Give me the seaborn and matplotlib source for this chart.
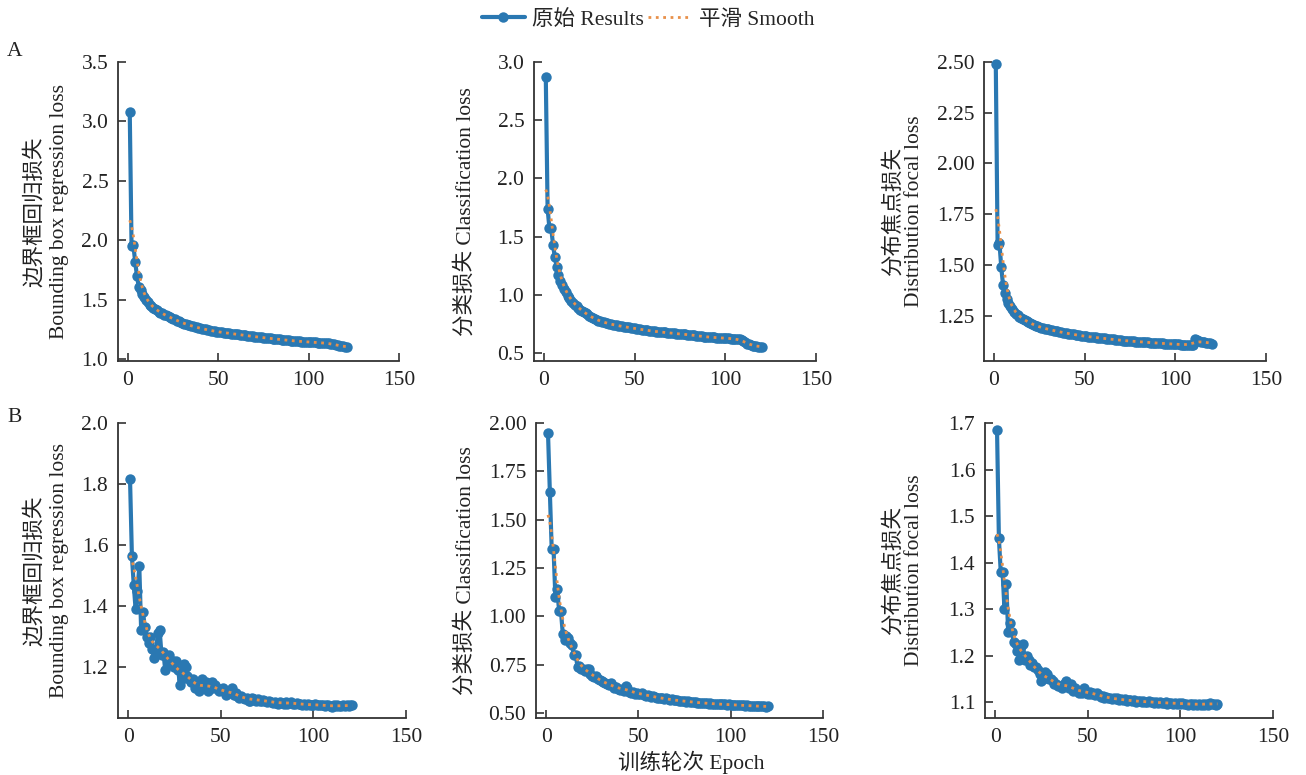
import numpy as np
import pandas as pd
import matplotlib
matplotlib.use("Agg")
import matplotlib.pyplot as plt
import seaborn as sns
from matplotlib.lines import Line2D

# ---------------- data ----------------
box_a = [3.08, 1.95, 1.96, 1.82, 1.70, 1.61, 1.58, 1.55, 1.52, 1.50,
         1.48, 1.46, 1.45, 1.43, 1.42, 1.41, 1.40, 1.39, 1.385, 1.375,
         1.37, 1.36, 1.355, 1.345, 1.34, 1.335, 1.325, 1.32, 1.315, 1.305,
         1.30, 1.295, 1.29, 1.285, 1.28, 1.277, 1.272, 1.268, 1.265, 1.26,
         1.257, 1.253, 1.25, 1.247, 1.244, 1.24, 1.238, 1.235, 1.233, 1.23,
         1.228, 1.226, 1.224, 1.222, 1.22, 1.218, 1.216, 1.214, 1.212, 1.21,
         1.208, 1.206, 1.204, 1.202, 1.20, 1.198, 1.196, 1.194, 1.192, 1.19,
         1.188, 1.186, 1.185, 1.183, 1.181, 1.18, 1.178, 1.176, 1.175, 1.173,
         1.171, 1.17, 1.168, 1.166, 1.165, 1.163, 1.162, 1.16, 1.158, 1.157,
         1.156, 1.154, 1.153, 1.152, 1.15, 1.149, 1.148, 1.147, 1.146, 1.145,
         1.144, 1.143, 1.142, 1.141, 1.14, 1.139, 1.138, 1.137, 1.136, 1.135,
         1.133, 1.131, 1.128, 1.125, 1.122, 1.118, 1.114, 1.11, 1.107, 1.104, 1.10]

cls_a = [2.87, 1.74, 1.57, 1.57, 1.43, 1.32, 1.24, 1.17, 1.12, 1.08,
         1.05, 1.02, 0.99, 0.97, 0.95, 0.93, 0.915, 0.90, 0.885, 0.87,
         0.86, 0.85, 0.84, 0.83, 0.815, 0.805, 0.80, 0.79, 0.785, 0.778,
         0.772, 0.767, 0.762, 0.758, 0.754, 0.75, 0.746, 0.742, 0.739, 0.736,
         0.733, 0.73, 0.727, 0.725, 0.722, 0.72, 0.718, 0.715, 0.713, 0.71,
         0.708, 0.705, 0.703, 0.70, 0.698, 0.696, 0.693, 0.691, 0.689, 0.686,
         0.684, 0.683, 0.681, 0.68, 0.678, 0.677, 0.675, 0.673, 0.672, 0.67,
         0.668, 0.667, 0.665, 0.664, 0.662, 0.661, 0.66, 0.658, 0.657, 0.656,
         0.654, 0.652, 0.65, 0.648, 0.646, 0.644, 0.642, 0.64, 0.638, 0.636,
         0.635, 0.634, 0.633, 0.632, 0.631, 0.63, 0.629, 0.628, 0.627, 0.626,
         0.625, 0.624, 0.623, 0.622, 0.621, 0.62, 0.619, 0.617, 0.612, 0.60,
         0.59, 0.58, 0.572, 0.566, 0.562, 0.558, 0.556, 0.554, 0.552, 0.55]

dfl_a = [2.49, 1.60, 1.61, 1.49, 1.40, 1.36, 1.33, 1.31, 1.295, 1.28,
         1.27, 1.26, 1.252, 1.245, 1.238, 1.232, 1.226, 1.221, 1.216, 1.212,
         1.208, 1.204, 1.20, 1.197, 1.194, 1.191, 1.188, 1.186, 1.184, 1.182,
         1.18, 1.178, 1.176, 1.174, 1.172, 1.17, 1.168, 1.166, 1.165, 1.163,
         1.161, 1.16, 1.158, 1.157, 1.155, 1.154, 1.152, 1.151, 1.149, 1.148,
         1.147, 1.146, 1.145, 1.144, 1.143, 1.142, 1.141, 1.14, 1.139, 1.138,
         1.137, 1.136, 1.135, 1.134, 1.133, 1.132, 1.131, 1.13, 1.129, 1.128,
         1.127, 1.127, 1.126, 1.125, 1.124, 1.124, 1.123, 1.122, 1.122, 1.121,
         1.12, 1.12, 1.119, 1.118, 1.118, 1.117, 1.116, 1.116, 1.115, 1.115,
         1.114, 1.113, 1.113, 1.112, 1.112, 1.111, 1.11, 1.11, 1.109, 1.109,
         1.108, 1.108, 1.107, 1.107, 1.106, 1.106, 1.105, 1.105, 1.104, 1.104,
         1.135, 1.13, 1.125, 1.122, 1.12, 1.118, 1.116, 1.115, 1.114, 1.112]

box_b = [1.815, 1.565, 1.47, 1.39, 1.45, 1.53, 1.32, 1.38, 1.33, 1.30,
         1.28, 1.30, 1.26, 1.23, 1.25, 1.31, 1.32, 1.24, 1.25, 1.19,
         1.23, 1.24, 1.21, 1.22, 1.20, 1.22, 1.19, 1.14, 1.16, 1.21,
         1.20, 1.17, 1.16, 1.15, 1.16, 1.13, 1.14, 1.12, 1.14, 1.16,
         1.13, 1.15, 1.12, 1.14, 1.15, 1.13, 1.14, 1.13, 1.12, 1.125,
         1.13, 1.12, 1.11, 1.115, 1.12, 1.13, 1.11, 1.115, 1.105, 1.10,
         1.105, 1.10, 1.095, 1.10, 1.09, 1.09, 1.10, 1.095, 1.09, 1.095,
         1.09, 1.088, 1.092, 1.09, 1.087, 1.09, 1.085, 1.083, 1.087, 1.082,
         1.08, 1.085, 1.083, 1.08, 1.085, 1.08, 1.082, 1.087, 1.08, 1.078,
         1.082, 1.079, 1.08, 1.077, 1.079, 1.076, 1.078, 1.075, 1.077, 1.075,
         1.078, 1.076, 1.074, 1.077, 1.075, 1.073, 1.076, 1.074, 1.072, 1.07,
         1.074, 1.072, 1.075, 1.073, 1.071, 1.074, 1.072, 1.075, 1.073, 1.076, 1.074]

cls_b = [1.95, 1.645, 1.35, 1.35, 1.10, 1.14, 1.03, 1.03, 0.91, 0.88,
         0.90, 0.89, 0.86, 0.85, 0.80, 0.80, 0.74, 0.745, 0.73, 0.725,
         0.715, 0.73, 0.725, 0.70, 0.69, 0.685, 0.69, 0.675, 0.67, 0.665,
         0.66, 0.655, 0.65, 0.645, 0.655, 0.64, 0.63, 0.635, 0.625, 0.62,
         0.625, 0.615, 0.64, 0.63, 0.61, 0.605, 0.61, 0.60, 0.605, 0.60,
         0.598, 0.602, 0.595, 0.59, 0.593, 0.588, 0.585, 0.587, 0.582, 0.58,
         0.578, 0.58, 0.576, 0.573, 0.575, 0.571, 0.569, 0.57, 0.567, 0.565,
         0.566, 0.563, 0.562, 0.564, 0.561, 0.559, 0.56, 0.557, 0.556, 0.558,
         0.555, 0.553, 0.554, 0.552, 0.551, 0.552, 0.55, 0.549, 0.55, 0.548,
         0.547, 0.548, 0.546, 0.545, 0.546, 0.544, 0.545, 0.543, 0.544, 0.542,
         0.543, 0.541, 0.542, 0.54, 0.541, 0.539, 0.54, 0.538, 0.539, 0.537,
         0.538, 0.536, 0.537, 0.535, 0.536, 0.534, 0.535, 0.534, 0.533, 0.534]

dfl_b = [1.685, 1.452, 1.38, 1.38, 1.30, 1.355, 1.25, 1.27, 1.25, 1.23,
         1.225, 1.21, 1.19, 1.22, 1.225, 1.19, 1.20, 1.19, 1.18, 1.185,
         1.175, 1.175, 1.17, 1.16, 1.145, 1.15, 1.165, 1.16, 1.15, 1.15,
         1.145, 1.14, 1.14, 1.135, 1.135, 1.13, 1.14, 1.145, 1.135, 1.13,
         1.14, 1.125, 1.13, 1.125, 1.12, 1.125, 1.12, 1.13, 1.12, 1.118,
         1.122, 1.118, 1.12, 1.115, 1.12, 1.115, 1.112, 1.114, 1.11, 1.112,
         1.108, 1.11, 1.107, 1.109, 1.106, 1.108, 1.105, 1.107, 1.104, 1.106,
         1.103, 1.105, 1.104, 1.102, 1.104, 1.101, 1.103, 1.102, 1.10, 1.102,
         1.101, 1.10, 1.102, 1.10, 1.101, 1.099, 1.10, 1.098, 1.10, 1.099,
         1.098, 1.10, 1.097, 1.099, 1.098, 1.097, 1.099, 1.096, 1.098, 1.097,
         1.098, 1.096, 1.097, 1.095, 1.097, 1.096, 1.094, 1.096, 1.095, 1.097,
         1.095, 1.096, 1.094, 1.097, 1.095, 1.098, 1.096, 1.097, 1.095, 1.097]

ylabels = ["边界框回归损失\nBounding box regression loss",
           "分类损失 Classification loss",
           "分布焦点损失\nDistribution focal loss"]
xlabel = "训练轮次 Epoch"
legend_labels = ["原始 Results", "平滑 Smooth"]
xticks = [0, 50, 100, 150]

# ---------------- style ----------------
sns.set_theme(style="ticks")
FAM = ["Liberation Serif", "Noto Sans CJK SC", "DejaVu Sans"]
plt.rcParams["font.family"] = FAM
plt.rcParams["axes.unicode_minus"] = False
plt.rcParams["xtick.direction"] = "in"
plt.rcParams["ytick.direction"] = "in"
FS = 15.5
BLUE = "#2a78b2"
ORANGE = "#e8904a"
W, H = 1306, 775
LW, MS = 3.0, 7.5


def smooth(y, sigma=3.0):
    r = int(4 * sigma + 0.5)
    k = np.exp(-0.5 * (np.arange(-r, r + 1) / sigma) ** 2)
    k /= k.sum()
    yp = np.pad(np.asarray(y, float), r, mode="symmetric")
    return np.convolve(yp, k, mode="valid")


fig = plt.figure(figsize=(W / 100, H / 100), dpi=100)

# (values, ylim, yticks, fmt, label idx, rect px (left, right, top, bottom), label x px, linespacing)
panels = [
    (box_a, (0.985, 3.5), np.arange(1.0, 3.51, 0.5), "{:.1f}", 0, (118, 399, 62, 361), 69, 1.35),
    (cls_a, (0.43, 3.0), np.arange(0.5, 3.01, 0.5), "{:.1f}", 1, (534, 816, 62, 361), 476, 1.0),
    (dfl_a, (1.026, 2.5), np.arange(1.25, 2.51, 0.25), "{:.2f}", 2, (984, 1266, 62, 361), 924, 1.1),
    (box_b, (1.033, 2.0), np.arange(1.2, 2.01, 0.2), "{:.1f}", 0, (118, 406, 423, 718), 69, 1.35),
    (cls_b, (0.474, 2.0), np.arange(0.5, 2.01, 0.25), "{:.2f}", 1, (536, 823, 423, 718), 476, 1.0),
    (dfl_b, (1.066, 1.7), np.arange(1.1, 1.71, 0.1), "{:.1f}", 2, (985, 1273, 423, 718), 924, 1.1),
]

for i, (vals, ylim, yt, fmt, li, (l, r, t, b), lx, lsp) in enumerate(panels):
    ax = fig.add_axes([l / W, 1 - b / H, (r - l) / W, (b - t) / H])
    df = pd.DataFrame({"epoch": np.arange(1, len(vals) + 1),
                       "results": vals})
    df["smooth"] = smooth(df["results"].values)
    sns.lineplot(data=df, x="epoch", y="results", ax=ax, color=BLUE,
                 linewidth=LW, marker="o", markersize=MS,
                 markeredgewidth=0, legend=False, clip_on=False)
    sns.lineplot(data=df, x="epoch", y="smooth", ax=ax, color=ORANGE,
                 linewidth=2.0, linestyle=":", legend=False, clip_on=False)
    ax.set_xlim(-5.5, 150)
    ax.set_ylim(*ylim)
    ax.set_xticks(xticks)
    ax.set_xticklabels([str(v) for v in xticks])
    ax.set_yticks(yt)
    ax.set_yticklabels([fmt.format(v) for v in yt])
    sns.despine(ax=ax)
    ax.tick_params(axis="both", which="major", direction="in", length=6,
                   width=1.2, labelsize=FS, pad=7, color="#333333",
                   labelcolor="#222222")
    for s in ("left", "bottom"):
        ax.spines[s].set_linewidth(1.3)
        ax.spines[s].set_color("#333333")
    ax.set_ylabel(ylabels[li], fontsize=FS, linespacing=lsp, color="#222222")
    ax.yaxis.set_label_coords((lx - l) / (r - l), 0.5)
    if i == 4:
        ax.set_xlabel(xlabel, fontsize=FS, color="#222222")
        ax.xaxis.set_label_coords((691 - l) / (r - l), -0.11)
    else:
        ax.set_xlabel("")

fig.text(15 / W, 1 - 52 / H, "A", fontsize=FS, ha="center", va="center", color="#222222")
fig.text(15 / W, 1 - 417 / H, "B", fontsize=FS, ha="center", va="center", color="#222222")

handles = [Line2D([], [], color=BLUE, linewidth=LW, marker="o", markersize=MS,
                  markeredgewidth=0),
           Line2D([], [], color=ORANGE, linewidth=2.0, linestyle=":")]
fig.legend(handles, legend_labels, loc="center", bbox_to_anchor=(648 / W, 1 - 20 / H),
           ncol=2, frameon=False, fontsize=FS, handlelength=2.0,
           handletextpad=0.35, columnspacing=0.2, borderpad=0.0)

fig.savefig("out.png", dpi=100)
